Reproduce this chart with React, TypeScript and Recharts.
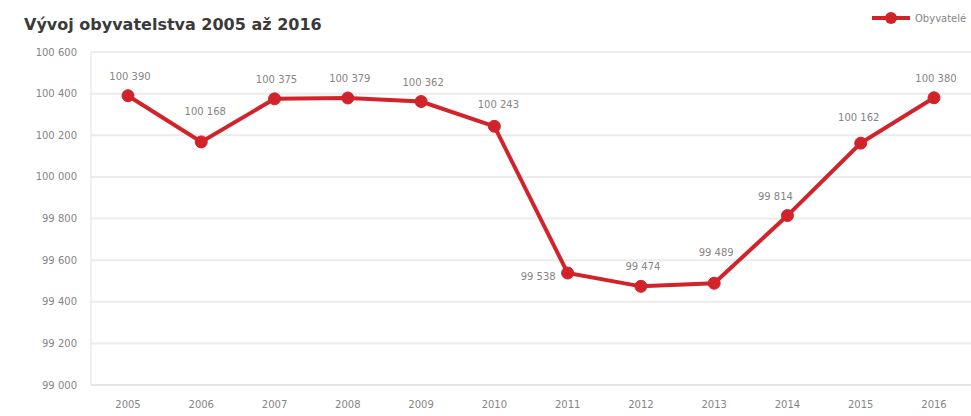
import React from 'react';
import { LineChart, Line, XAxis, YAxis, CartesianGrid, LabelList } from 'recharts';

const years = ['2005', '2006', '2007', '2008', '2009', '2010', '2011', '2012', '2013', '2014', '2015', '2016'];
const population = [100390, 100168, 100375, 100379, 100362, 100243, 99538, 99474, 99489, 99814, 100162, 100380];
const yTicks = [99000, 99200, 99400, 99600, 99800, 100000, 100200, 100400, 100600];

const data = years.map((year, i) => ({ year, value: population[i] }));

const RED = '#d2232a';
const GREY = '#858585';
const FONT = 'DejaVu Sans, Verdana, sans-serif';
const fmt = (v: number) => String(v).replace(/\B(?=(\d{3})+(?!\d))/g, ' ');

// label nudges so they clear the line, like the original
const labelShift: Record<string, [number, number]> = {
  '2006': [2, -11],
  '2010': [2, -2],
  '2013': [0, -11],
  '2014': [-14, 0],
  '2015': [-4, -6],
};

function PointLabel(props: any) {
  const { x, y, value, index } = props;
  const year = years[index];
  if (year === '2011') {
    return (
      <text x={x - 12} y={y + 7} textAnchor="end" fontSize={10} fill={GREY} fontFamily={FONT}>
        {fmt(value)}
      </text>
    );
  }
  const [dx, dy] = labelShift[year] ?? [0, 0];
  return (
    <text x={x + 2 + dx} y={y - 16 + dy} textAnchor="middle" fontSize={10} fill={GREY} fontFamily={FONT}>
      {fmt(value)}
    </text>
  );
}

export default function App() {
  return (
    <div style={{ position: 'absolute', left: 0, top: 0, width: 971, height: 416, background: '#fff', fontFamily: FONT }}>
      <div style={{ position: 'absolute', left: 24, top: 15, fontSize: 16, fontWeight: 'bold', color: '#3a3a3a' }}>
        Vývoj obyvatelstva 2005 až 2016
      </div>
      <div style={{ position: 'absolute', left: 872, top: 10, display: 'flex', alignItems: 'center', fontSize: 10, color: GREY }}>
        <svg width={38} height={16}>
          <line x1={0} y1={8} x2={38} y2={8} stroke={RED} strokeWidth={4} />
          <circle cx={19} cy={8} r={6} fill={RED} />
        </svg>
        <span style={{ marginLeft: 5 }}>Obyvatelé</span>
      </div>
      <LineChart width={971} height={416} data={data} margin={{ top: 52, right: 0, bottom: 0, left: 0 }}>
        <CartesianGrid vertical={false} stroke="#ebebeb" strokeWidth={2} />
        <XAxis
          dataKey="year"
          height={31}
          padding={{ left: 37, right: 37 }}
          axisLine={{ stroke: '#e0e0e0' }}
          tickLine={false}
          tick={{ fontSize: 10, fill: GREY, fontFamily: FONT }}
          tickMargin={10}
        />
        <YAxis
          width={91}
          domain={[99000, 100600]}
          ticks={yTicks}
          interval={0}
          axisLine={{ stroke: '#e0e0e0' }}
          tickLine={false}
          tick={{ fontSize: 10, fill: GREY, fontFamily: FONT }}
          tickFormatter={fmt}
          tickMargin={8}
        />
        <Line
          type="linear"
          dataKey="value"
          stroke={RED}
          strokeWidth={4}
          dot={{ r: 6, fill: RED, stroke: RED, strokeWidth: 1 }}
          isAnimationActive={false}
        >
          <LabelList dataKey="value" content={<PointLabel />} />
        </Line>
      </LineChart>
    </div>
  );
}
